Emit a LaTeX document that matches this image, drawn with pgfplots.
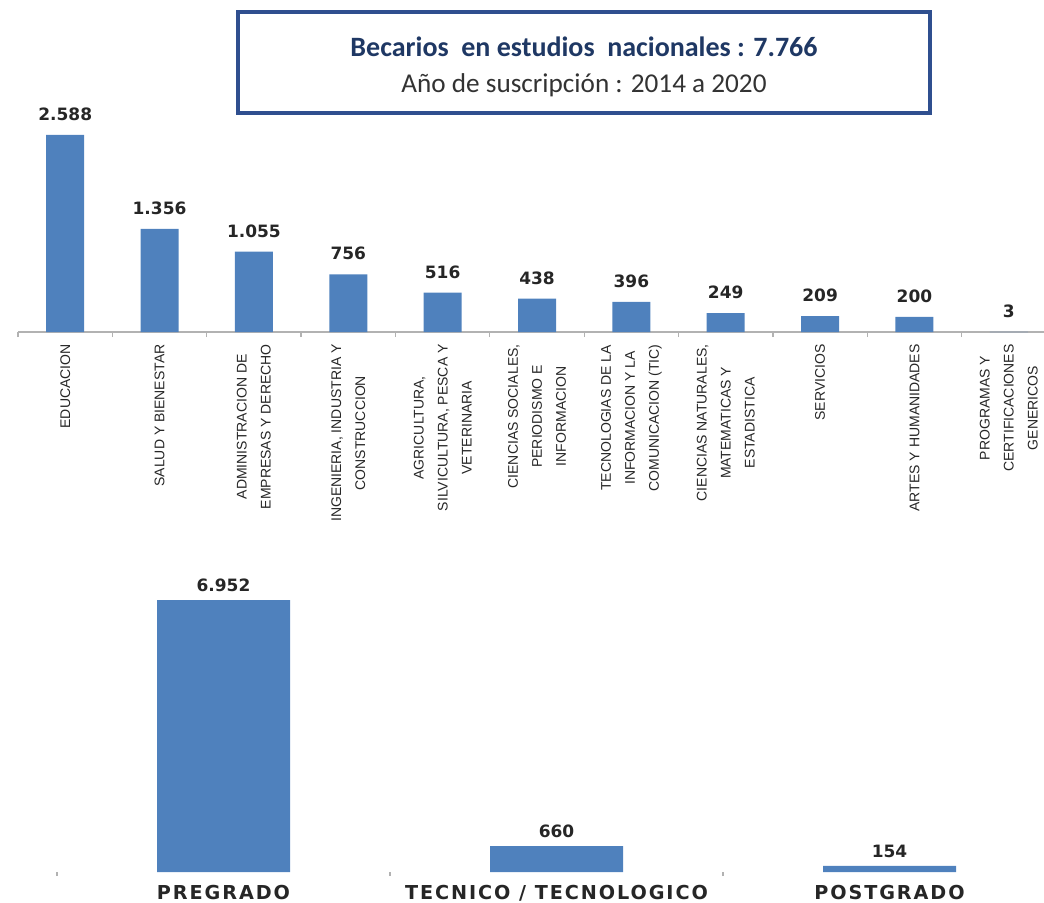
\documentclass[border=0pt]{standalone}
\usepackage{pgfplots}
\pgfplotsset{compat=1.18}
\usepackage{fontspec}
\setmainfont{Carlito}
\newfontfamily\dejavu{DejaVu Sans}
\newfontfamily\dejavuwide[LetterSpace=10]{DejaVu Sans}
\newfontfamily\arial{Liberation Sans}
\definecolor{barblue}{HTML}{4F81BD}
\definecolor{navy}{HTML}{1F3864}
\definecolor{boxblue}{HTML}{2F4F8F}
\begin{document}
\begin{tikzpicture}
\useasboundingbox (0,0) rectangle (522pt,451pt);
\clip (0,0) rectangle (522pt,451pt);
% top chart
\begin{axis}[
  at={(9pt,285pt)}, anchor=south west,
  scale only axis, width=519pt, height=110.4pt,
  xmin=-0.5, xmax=10.5, ymin=0, ymax=2900,
  axis x line*=bottom, axis y line=none,
  axis line style={draw=gray!60, line width=0.6pt},
  xtick={0,1,2,3,4,5,6,7,8,9,10}, major tick length=0pt,
  minor xtick={-0.5,0.5,1.5,2.5,3.5,4.5,5.5,6.5,7.5,8.5,9.5,10.5},
  minor tick length=2.5pt, tick align=outside,
  minor tick style={gray!60, line width=0.6pt},
  xticklabels={{EDUCACION},{SALUD Y BIENESTAR},{ADMINISTRACION DE\\EMPRESAS Y DERECHO},{INGENIERIA, INDUSTRIA Y\\CONSTRUCCION},{AGRICULTURA,\\SILVICULTURA, PESCA Y\\VETERINARIA},{CIENCIAS SOCIALES,\\PERIODISMO E\\INFORMACION},{TECNOLOGIAS DE LA\\INFORMACION Y LA\\COMUNICACION (TIC)},{CIENCIAS NATURALES,\\MATEMATICAS Y\\ESTADISTICA},{SERVICIOS},{ARTES Y HUMANIDADES},{PROGRAMAS Y\\CERTIFICACIONES\\GENERICOS}},
  xticklabel style={yshift=-6pt, rotate=90, anchor=east, align=center, inner sep=0pt, font=\arial\fontsize{7}{12}\selectfont, text=black!85},
  ybar, bar width=19pt,
  /pgf/number format/1000 sep={.},
  /pgf/number format/assume math mode=true,
  nodes near coords,
  every node near coord/.append style={font=\dejavu\bfseries\fontsize{8.5}{10}\selectfont, inner sep=0pt, anchor=south, yshift=7pt, text=black!85},
]
\addplot[fill=barblue, draw=none] coordinates {
  (0,2588) (1,1356) (2,1055) (3,756) (4,516) (5,438) (6,396) (7,249) (8,209) (9,200) (10,3)};
\end{axis}
% bottom chart
\begin{axis}[
  at={(28.5pt,15pt)}, anchor=south west,
  scale only axis, width=499.5pt, height=136.9pt,
  xmin=-0.5, xmax=2.5, ymin=0, ymax=7000,
  axis x line*=bottom, axis y line=none,
  axis line style={draw=none},
  xtick={0,1,2}, major tick length=0pt,
  xticklabels={PREGRADO, TECNICO / TECNOLOGICO, POSTGRADO},
  minor xtick={-0.5,0.5,1.5}, minor tick length=2pt, tick align=outside,
  minor tick style={draw=gray!60, line width=0.6pt},
  xticklabel style={font=\dejavuwide\bfseries\fontsize{9.6}{11}\selectfont, anchor=north, inner sep=0pt, yshift=-6.3pt, text=black!85},
  ybar, bar width=66.5pt,
  /pgf/number format/1000 sep={.},
  /pgf/number format/assume math mode=true,
  nodes near coords,
  every node near coord/.append style={font=\dejavu\bfseries\fontsize{8.5}{10}\selectfont, inner sep=0pt, anchor=south, yshift=4pt, text=black!85},
]
\addplot[fill=barblue, draw=none] coordinates {(0,6952) (1,660) (2,154)};
\end{axis}
% title box
\draw[boxblue, line width=2pt, fill=white] (119pt,394.5pt) rectangle (465pt,445pt);
\node[font=\bfseries\fontsize{14}{16}\selectfont, text=navy] at (292pt,427.5pt) {Becarios~ en estudios~ nacionales : 7.766};
\node[font=\fontsize{13.6}{16}\selectfont, text=black!80] at (292pt,408.5pt) {Año de suscripción : 2014 a 2020};
\end{tikzpicture}
\end{document}
